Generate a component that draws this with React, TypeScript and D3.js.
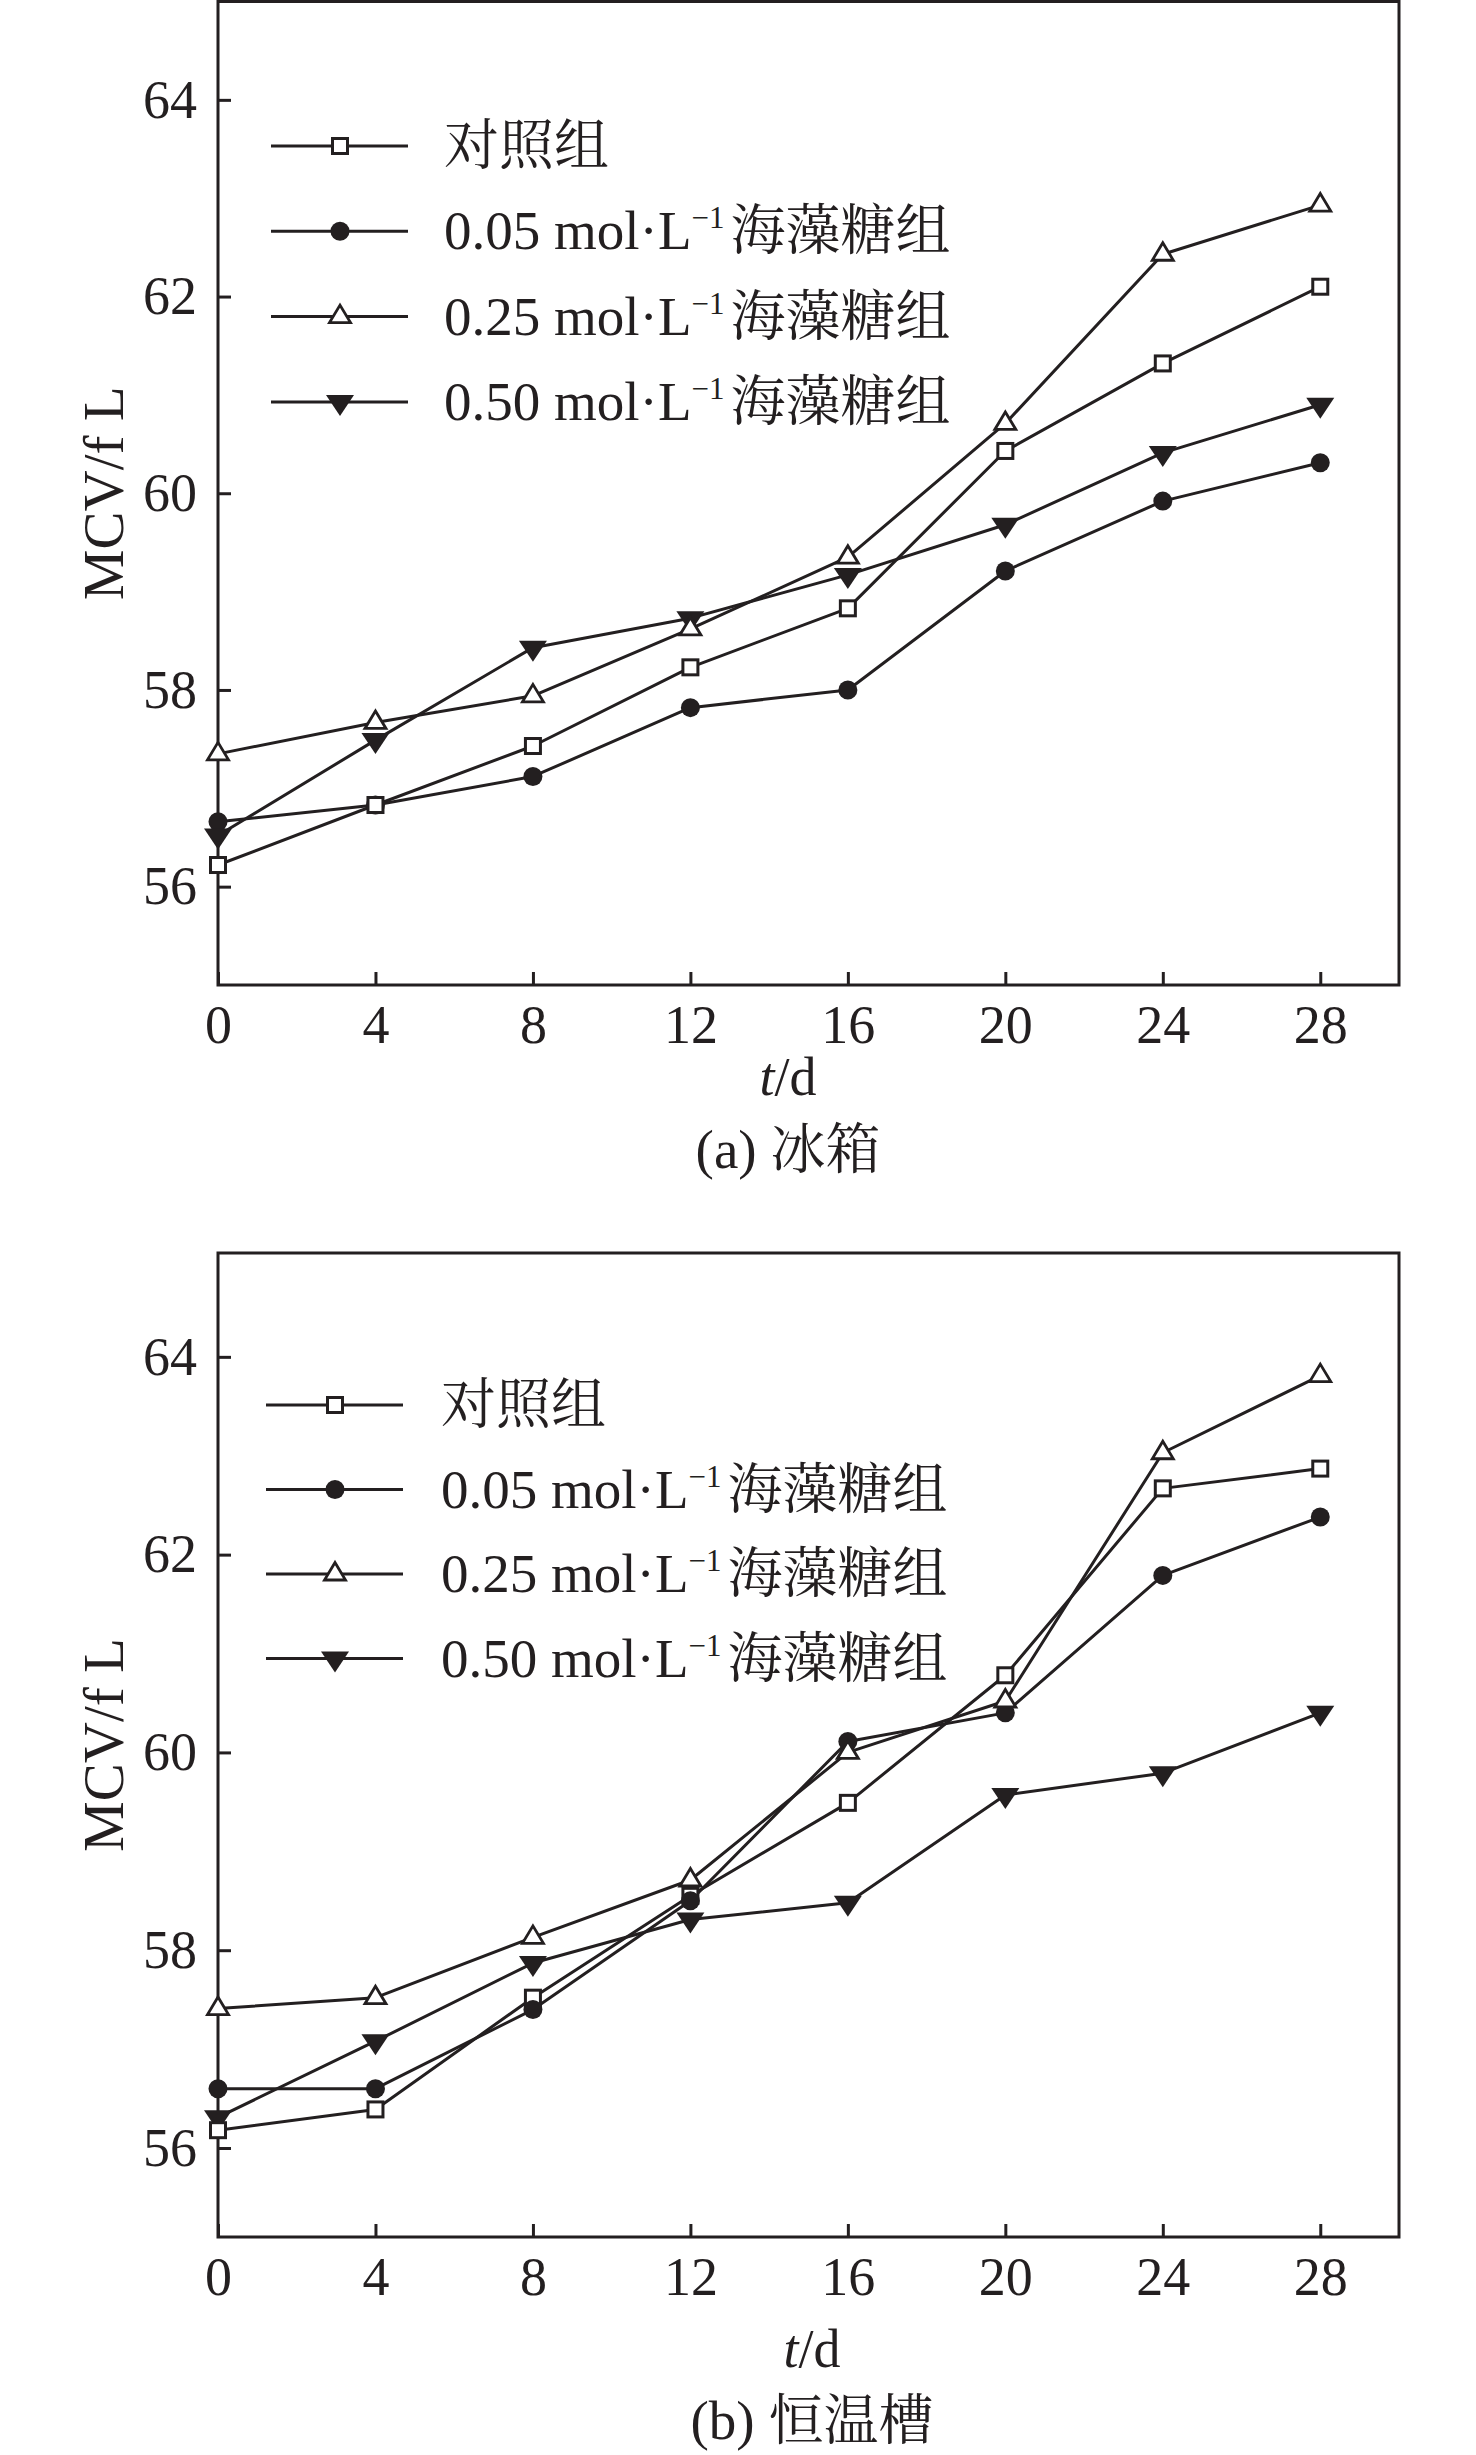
import React, { useEffect, useRef } from "react";
import * as d3 from "d3";

// sampling days and axis ticks
const days = [0, 4, 8, 12, 16, 20, 24, 28];
const xTicks = [0, 4, 8, 12, 16, 20, 24, 28];
const yTicks = [56, 58, 60, 62, 64];

// legend labels
const groupNames = ["对照组", "0.05", "0.25", "0.50"];

// (a) 冰箱
const fridgeControl = [56.22, 56.83, 57.43, 58.23, 58.83, 60.43, 61.32, 62.1];
const fridge005 = [56.66, 56.83, 57.12, 57.82, 58.0, 59.21, 59.92, 60.31];
const fridge025 = [57.35, 57.67, 57.94, 58.62, 59.35, 60.71, 62.43, 62.93];
const fridge050 = [56.52, 57.49, 58.43, 58.73, 59.17, 59.68, 60.41, 60.9];

// (b) 恒温槽
const bathControl = [56.18, 56.39, 57.52, 58.55, 59.49, 60.78, 62.67, 62.87];
const bath005 = [56.6, 56.6, 57.4, 58.5, 60.11, 60.4, 61.79, 62.38];
const bath025 = [57.41, 57.52, 58.13, 58.71, 60.0, 60.52, 63.03, 63.81];
const bath050 = [56.31, 57.08, 57.87, 58.31, 58.48, 59.57, 59.79, 60.4];

type Marker = "square" | "circle" | "up" | "down";
const markers: Marker[] = ["square", "circle", "up", "down"];

type PanelCfg = {
    values: number[][];
    yDomain: [number, number];
    top: number;
    bottom: number;
    caption: string;
    titleX: number;
    titleDy: number;
    captionDy: number;
    legendTop: number;
    legendStep: number;
    legendShift: number;
    textX: number;
    markerOrder: number[];
};

const INK = "#231f20";
const SERIF = "'Liberation Serif', 'Times New Roman', 'Noto Serif CJK SC', 'Noto Sans CJK SC', serif";
const LEFT = 218;
const RIGHT = 1399;

const panels: PanelCfg[] = [
    {
        values: [fridgeControl, fridge005, fridge025, fridge050],
        yDomain: [55, 65],
        top: 1.5,
        bottom: 985,
        caption: "(a) 冰箱",
        titleX: 788,
        titleDy: 110,
        captionDy: 183,
        legendTop: 146,
        legendStep: 85.3,
        legendShift: 0,
        textX: 444,
        markerOrder: [1, 3, 0, 2],
    },
    {
        values: [bathControl, bath005, bath025, bath050],
        yDomain: [55.1, 65.05],
        top: 1253,
        bottom: 2237,
        caption: "(b) 恒温槽",
        titleX: 812,
        titleDy: 130,
        captionDy: 202,
        legendTop: 1405,
        legendStep: 84.5,
        legendShift: -5,
        textX: 441,
        markerOrder: [3, 0, 1, 2],
    },
];

function drawMarker(g: d3.Selection<SVGGElement, unknown, null, undefined>, kind: Marker, cx: number, cy: number) {
    if (kind === "square") {
        g.append("rect")
            .attr("x", cx - 7.5).attr("y", cy - 7.5)
            .attr("width", 15).attr("height", 15)
            .attr("fill", "#fff").attr("stroke", INK).attr("stroke-width", 3);
    } else if (kind === "circle") {
        g.append("circle")
            .attr("cx", cx).attr("cy", cy).attr("r", 9.5)
            .attr("fill", INK);
    } else if (kind === "up") {
        g.append("path")
            .attr("d", `M${cx - 10.5},${cy + 6}L${cx + 10.5},${cy + 6}L${cx},${cy - 11.5}Z`)
            .attr("fill", "#fff").attr("stroke", INK).attr("stroke-width", 2.8)
            .attr("stroke-linejoin", "miter");
    } else {
        g.append("path")
            .attr("d", `M${cx - 14},${cy - 7}L${cx + 14},${cy - 7}L${cx},${cy + 14}Z`)
            .attr("fill", INK);
    }
}

const Panel: React.FC<{ cfg: PanelCfg }> = ({ cfg }) => {
    const gRef = useRef<SVGGElement>(null);

    useEffect(() => {
        const g = d3.select(gRef.current!);
        g.selectAll("*").remove();

        const x = d3.scaleLinear().domain([0, 30]).range([LEFT, RIGHT]);
        const y = d3.scaleLinear().domain(cfg.yDomain).range([cfg.bottom, cfg.top]);

        // frame
        g.append("rect")
            .attr("x", LEFT).attr("y", cfg.top)
            .attr("width", RIGHT - LEFT).attr("height", cfg.bottom - cfg.top)
            .attr("fill", "none").attr("stroke", INK).attr("stroke-width", 3);

        const yAxis = g.append("g")
            .attr("transform", `translate(${LEFT},0)`)
            .call(d3.axisLeft(y).tickValues(yTicks).tickSize(-13).tickPadding(21).tickFormat(d3.format("d")));
        const xAxis = g.append("g")
            .attr("transform", `translate(0,${cfg.bottom})`)
            .call(d3.axisBottom(x).tickValues(xTicks).tickSize(-13).tickPadding(20).tickFormat(d3.format("d")));

        [yAxis, xAxis].forEach(ax => {
            ax.select(".domain").remove();
            ax.attr("font-family", SERIF).attr("font-size", 54);
            ax.selectAll("line").attr("stroke", INK).attr("stroke-width", 3);
            ax.selectAll("text").attr("fill", INK);
        });

        // axis titles
        g.append("text")
            .attr("transform", `translate(123,${(cfg.top + cfg.bottom) / 2}) rotate(-90)`)
            .attr("text-anchor", "middle")
            .attr("font-family", SERIF).attr("font-size", 57).attr("fill", INK)
            .text("MCV/f L");

        const title = g.append("text")
            .attr("x", cfg.titleX).attr("y", cfg.bottom + cfg.titleDy)
            .attr("text-anchor", "middle")
            .attr("font-family", SERIF).attr("font-size", 54).attr("fill", INK);
        title.append("tspan").attr("font-style", "italic").text("t");
        title.append("tspan").text("/d");

        g.append("text")
            .attr("x", cfg.titleX).attr("y", cfg.bottom + cfg.captionDy)
            .attr("text-anchor", "middle")
            .attr("font-family", SERIF).attr("font-size", 55).attr("fill", INK)
            .text(cfg.caption);

        // series lines
        const line = d3.line<number>()
            .x((_, i) => x(days[i]))
            .y(d => y(d));

        cfg.values.forEach(vals => {
            g.append("path")
                .attr("d", line(vals)!)
                .attr("fill", "none").attr("stroke", INK).attr("stroke-width", 3)
                .attr("stroke-linejoin", "round");
        });

        const mk = g.append("g");
        cfg.markerOrder.forEach(si => {
            cfg.values[si].forEach((v, i) => drawMarker(mk, markers[si], x(days[i]), y(v)));
        });

        // legend
        const lg = g.append("g");
        groupNames.forEach((name, i) => {
            const ry = cfg.legendTop + i * cfg.legendStep;
            const lx0 = 271 + cfg.legendShift;
            lg.append("line")
                .attr("x1", lx0).attr("x2", lx0 + 137)
                .attr("y1", ry).attr("y2", ry)
                .attr("stroke", INK).attr("stroke-width", 3);
            drawMarker(lg, markers[i], lx0 + 69, ry);

            const t = lg.append("text")
                .attr("x", cfg.textX).attr("y", ry + 18)
                .attr("font-family", SERIF).attr("font-size", 55).attr("fill", INK);
            if (i === 0) {
                t.text(name);
            } else {
                t.append("tspan").text(`${name} mol·L`);
                t.append("tspan").attr("font-size", 31).attr("dy", -21).text("−1");
                t.append("tspan").attr("dy", 21).attr("dx", 6).text("海藻糖组");
            }
        });
    }, [cfg]);

    return <g ref={gRef} />;
};

export default function App() {
    return (
        <svg
            width={1476}
            height={2455}
            style={{ position: "absolute", left: 0, top: 0, background: "#fff" }}
        >
            {panels.map((p, i) => (
                <Panel key={i} cfg={p} />
            ))}
        </svg>
    );
}
